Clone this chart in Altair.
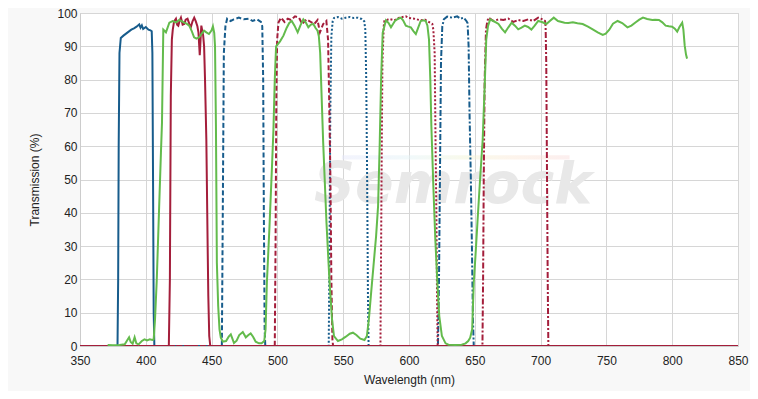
import altair as alt
import pandas as pd

# ---- data ----
blue1_w = [350, 378.5, 379.0, 379.4, 380.0, 381.0, 383, 385, 387, 389, 391, 393, 395, 396, 397, 398, 400, 402, 403.5, 404.5, 405.0, 405.5, 406.0, 406.5, 850]
blue1_t = [0, 0, 20, 60, 88, 92.5, 93.2, 93.8, 94.4, 95.0, 95.4, 95.9, 96.6, 95.6, 96.3, 95.2, 95.8, 95.0, 94.8, 94.5, 88, 50, 10, 0, 0]

red1_w = [350, 417.5, 418.3, 419.0, 419.8, 420.5, 421.5, 422.9, 423.8, 424.7, 425.8, 426.7, 428.0, 429.2, 430.3, 431.7, 433.0, 434.2, 435.5, 436.8, 438.0, 439.2, 440.0, 441.0, 441.6, 442.2, 443.0, 443.6, 444.3, 445.0, 446.0, 447.0, 447.5, 448.2, 449.0, 850]
red1_t = [0, 0, 20, 75, 92, 95, 97.5, 98.3, 96.5, 96.2, 97.8, 98.6, 96.5, 96.7, 98.0, 98.3, 96.8, 95.7, 97.5, 98.6, 97.5, 96.0, 94.2, 87.3, 92.0, 96.2, 94.5, 93.2, 90, 80, 62, 30, 15, 3, 0, 0]

green_w = [371, 375, 380, 384, 386, 387.3, 388.5, 390, 391.5, 392.8, 394.5, 397, 399, 401, 403, 405, 406, 407, 408.3, 410, 411.5, 412.3, 413.3,
           415.3, 417.9, 420.4, 423, 425.4, 427.5, 429.2, 431, 433, 435, 436.7, 438.5, 440.5, 442.5, 444.3, 446, 448, 450, 451, 452, 452.6, 453.3,
           454, 455, 456, 457, 458.6, 461, 463, 464.6, 466, 467, 469, 471, 473.7, 476, 478, 479.7, 481.5, 483.5, 486, 488, 490, 491, 492, 494,
           496, 497, 498, 499, 502, 504.6, 507, 509, 510.9, 513, 515.4, 517.5, 519.7, 521.5, 523.5, 525.5, 527.3, 529, 530.5, 531.5, 532.5, 534.8,
           537.3, 539.5, 541.5, 543, 546, 549, 552, 555, 557.4, 560, 563, 566.2, 568, 569.5, 571, 573, 575, 576.5, 577.7, 578.8, 580, 582.5,
           584.5, 586.3, 588, 589.3, 591.5, 593.8, 595.5, 597.6, 599.5, 601.4, 603.5, 605.2, 607, 608.9, 611, 612.7, 614, 615.2, 616.2, 617,
           618.5, 620, 621.5, 623, 625, 627.8, 630, 635, 640, 643, 645, 646.5, 648, 649.2, 650.5, 652, 654, 656, 657.5, 658.7, 660, 661.7, 664,
           666, 668, 670.5, 673, 675.5, 678, 680.5, 683, 685.5, 688, 690.5, 693, 695.5, 698.2, 701, 704.4, 707, 710, 713.2, 718.2, 721, 724.5,
           728, 732, 736, 739.6, 743.4, 747.2, 749.5, 752.2, 755, 758.5, 762, 766, 769, 772.3, 775, 777.8, 781, 784.9, 787, 789.9, 792.5, 795,
           797.5, 800, 802, 803.8, 805.5, 807.6, 808.5, 809.5, 810.5, 811.3]
green_t = [0.3, 0.2, 0.3, 0.5, 1.8, 2.6, 1.2, 0.7, 2.6, 0.8, 0.5, 1.5, 2.0, 1.7, 2.0, 1.8, 2, 8, 19.5, 40, 58, 67, 95,
           94.2, 97.1, 97.6, 97.2, 97.9, 97.5, 97.1, 96.8, 96.2, 94.5, 92.7, 92.3, 92.7, 93.8, 94.7, 94.2, 93.7, 94.8, 96, 94, 90, 66,
           25, 12, 5, 2.5, 1.3, 1.5, 2.8, 3.5, 2.0, 0.9, 1.6, 3.3, 4.2, 2.6, 3.3, 3.8, 2.8, 1.3, 0.8, 0.8, 1.5, 5, 19, 36,
           55, 65, 80, 90, 91.5, 93.2, 95.5, 97, 97.6, 96.2, 94.2, 96.3, 98.1, 97.2, 95.7, 96.5, 96.7, 95.5, 94.7, 93, 88, 61,
           37, 20, 8, 3, 1.5, 2, 2.8, 3.7, 4, 3.3, 2.2, 1.8, 3, 8, 15, 24, 33, 42, 60, 80, 94, 97.8,
           97, 95.7, 96.8, 97.6, 98.2, 98.6, 97.8, 96.2, 95.9, 95.7, 94.5, 93.7, 95.6, 97.6, 97.8, 97.6, 96.2, 92, 80, 66,
           48, 32, 19.5, 9, 3, 0.8, 0.4, 0.3, 0.4, 0.8, 1.5, 2.5, 5, 19, 27, 37, 50, 62, 78, 92, 96, 98.1, 97.6,
           97.2, 96.7, 95.3, 94.2, 95.7, 97.1, 96.2, 95.1, 95.6, 96.2, 95.8, 95.0, 96.2, 97.6, 97.3, 96.7, 97.6, 98.6, 97.6, 97.1, 97.0, 97.2,
           96.9, 96.7, 95.9, 95.1, 94.2, 93.4, 93.8, 95.0, 96.8, 97.6, 97.0, 95.7, 96.2, 97.2, 98.0, 98.6, 98.2, 97.9, 98.0, 97.9, 97.2, 96.2,
           96.0, 95.9, 95.3, 94.4, 95.8, 97.1, 95.0, 90.2, 87.5, 86.3]

blue2_w = [350, 457.8, 458.5, 459.3, 460.5, 461.8, 464.4, 466.9, 470.7, 474.4, 478.2, 481.2, 484.5, 487.5, 488.5, 489.2, 489.7, 490.3, 490.8, 850]
blue2_t = [0, 0, 40, 88, 96, 98.3, 97.6, 98.1, 98.6, 98.1, 98.3, 97.6, 98.1, 97.3, 96, 80, 40, 5, 0, 0]

red2_w = [350, 498.0, 498.6, 499.2, 499.8, 500.8, 502.8, 505.4, 507.9, 510.4, 513.4, 516.4, 518.9, 522.2, 525.5, 528.0, 530.5, 532.3, 534.8, 537.2, 538.5, 539.3, 540.3, 541.0, 541.8, 542.3, 850]
red2_t = [0, 0, 30, 75, 92, 97.1, 98.6, 97.3, 98.3, 97.9, 99.0, 98.6, 96.7, 98.1, 97.3, 96.7, 97.9, 94.2, 96.7, 97.6, 92, 75, 50, 20, 2, 0, 0]

blue3_w = [350, 539.0, 539.6, 540.2, 541.0, 542.0, 543, 546, 549, 552, 555, 558, 561, 564, 566.0, 566.8, 567.5, 568.2, 568.8, 569.3, 850]
blue3_t = [0, 0, 30, 70, 93, 97.5, 98.5, 98.8, 98.3, 98.6, 98.8, 98.5, 98.6, 98.2, 97.5, 95, 80, 50, 15, 0, 0]

red3_w = [350, 578.3, 578.8, 579.3, 579.8, 580.8, 581.3, 585.0, 588.8, 592.6, 597.6, 600.0, 603.9, 608.9, 612.0, 614.0, 617.7, 618.5, 619.5, 620.2, 620.8, 621.3, 621.8, 850]
red3_t = [0, 0, 30, 60, 85, 96, 97.6, 98.2, 97.8, 98.6, 99.0, 98.5, 98.3, 97.8, 98.0, 97.6, 96.7, 95, 88, 60, 40, 15, 0, 0]

blue4_w = [350, 622.0, 622.8, 623.5, 624.3, 625.3, 626.5, 629.0, 632.8, 636.6, 639.0, 641.6, 643.6, 644.5, 645.3, 646.0, 647.0, 647.8, 648.6, 649.2, 850]
blue4_t = [0, 0, 20, 50, 85, 96, 98.1, 98.9, 98.6, 99.0, 98.3, 98.6, 97.6, 97, 90, 70, 50, 30, 8, 0, 0]

red4_w = [350, 655.8, 656.3, 656.8, 657.5, 658.5, 659.5, 660.4, 664.2, 668.0, 671.7, 675.5, 679.3, 683.1, 686.9, 690.6, 694.4, 698.2, 701.4, 703.4, 703.8, 704.3, 704.9, 705.4, 705.9, 850]
red4_t = [0, 0, 20, 50, 80, 95, 97.5, 98.6, 97.6, 98.1, 97.9, 98.3, 97.3, 97.9, 97.6, 98.1, 97.6, 98.6, 98.1, 97.6, 96, 85, 50, 20, 0, 0]

x_ticks = [350, 400, 450, 500, 550, 600, 650, 700, 750, 800, 850]
y_ticks = [0, 10, 20, 30, 40, 50, 60, 70, 80, 90, 100]

# watermark (logo text and its faint colour streak)
watermark = pd.DataFrame({"x": [633.5], "y": [43.0], "label": ["Semrock"]})
streak = pd.DataFrame({"x": [549.0], "x2": [722.0], "y": [56.0], "y2": [57.3]})

BLUE = "#175c8c"
RED = "#a41e3b"
GREEN = "#63bb4c"

series = [
    (blue1_w, blue1_t, BLUE, []),
    (blue2_w, blue2_t, BLUE, [5, 2.5]),
    (blue3_w, blue3_t, BLUE, [2, 2]),
    (blue4_w, blue4_t, BLUE, [6, 2, 2, 2]),
    (red1_w, red1_t, RED, []),
    (red2_w, red2_t, RED, [5, 2.5]),
    (red3_w, red3_t, RED, [2, 2]),
    (red4_w, red4_t, RED, [6, 2, 2, 2]),
    (green_w, green_t, GREEN, []),
]

FONT = "Liberation Sans"

xscale = alt.Scale(domain=[350, 850], nice=False, zero=False)
yscale = alt.Scale(domain=[0, 100], nice=False)

xaxis = alt.Axis(values=x_ticks, title="Wavelength (nm)", grid=True, tickSize=0,
                 labelPadding=9, labelFlush=False, labelOverlap=False, titlePadding=8)
yaxis = alt.Axis(values=y_ticks, title="Transmission (%)", grid=True, tickSize=0,
                 labelPadding=3, titlePadding=15)

streak_layer = alt.Chart(streak).mark_rect(
    opacity=0.5,
    color=alt.Gradient(
        gradient="linear", x1=0, x2=1, y1=0, y2=0,
        stops=[
            alt.GradientStop(color="#e6e8fb", offset=0),
            alt.GradientStop(color="#e3f3f6", offset=0.3),
            alt.GradientStop(color="#f3f4d6", offset=0.55),
            alt.GradientStop(color="#fbe9d8", offset=0.75),
            alt.GradientStop(color="#f9dede", offset=1),
        ],
    ),
).encode(
    x=alt.X("x:Q", scale=xscale, axis=xaxis), x2="x2:Q",
    y=alt.Y("y:Q", scale=yscale, axis=yaxis), y2="y2:Q",
)

wm = alt.Chart(watermark).mark_text(
    font="DejaVu Sans", fontSize=57, fontWeight="bold", fontStyle="italic",
    color="#e8e8e8", align="center", baseline="alphabetic"
).encode(
    x=alt.X("x:Q", scale=xscale, axis=xaxis),
    y=alt.Y("y:Q", scale=yscale, axis=yaxis),
    text="label:N",
)

layers = [streak_layer, wm]
for w, t, col, dash in series:
    df = pd.DataFrame({"w": w, "t": t})
    kw = dict(color=col, strokeWidth=2, clip=True)
    if dash:
        kw["strokeDash"] = dash
    layers.append(
        alt.Chart(df).mark_line(**kw).encode(
            x=alt.X("w:Q", scale=xscale, axis=xaxis),
            y=alt.Y("t:Q", scale=yscale, axis=yaxis),
            order=alt.Order("w:Q"),
        )
    )

chart = alt.layer(*layers).properties(
    width=658, height=333,
    autosize=alt.AutoSizeParams(type="none"),
    padding={"left": 72, "top": 5, "right": 12, "bottom": 45},
    background="#f8f8f8",
).configure_view(
    fill="white", stroke="#cccccc", strokeWidth=1
).configure_axis(
    gridColor="#d6d6d6", gridWidth=1, domainColor="#cccccc",
    labelFont=FONT, labelFontSize=12, labelColor="#222222",
    titleFont=FONT, titleFontSize=12, titleColor="#222222", titleFontWeight="normal",
)

chart.save("out.html", embed_options={"renderer": "svg", "actions": False})
